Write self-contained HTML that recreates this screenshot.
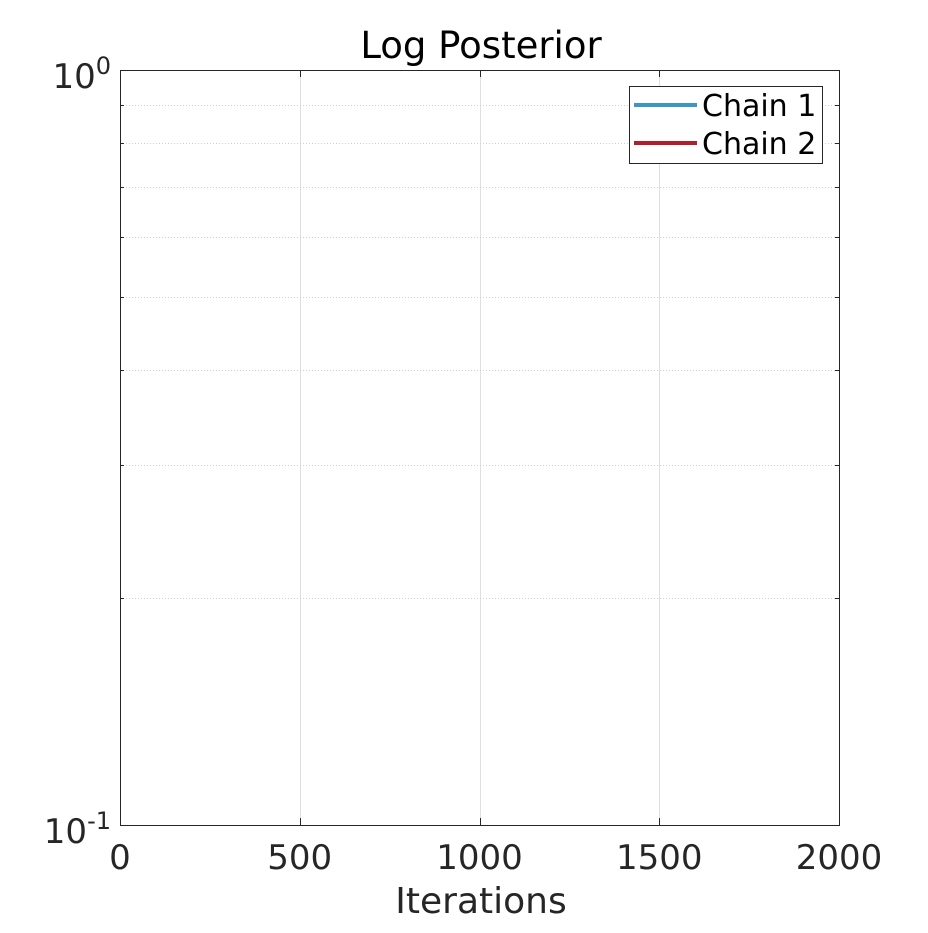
<!DOCTYPE html>
<html><head><meta charset="utf-8"><style>
html,body{margin:0;padding:0;background:#fff;}
svg text{font-family:"DejaVu Sans","Liberation Sans",sans-serif;}
</style></head><body>
<svg id="chart" width="928" height="928" viewBox="0 0 928 928" xmlns="http://www.w3.org/2000/svg">
<rect x="0" y="0" width="928" height="928" fill="#fff"/>
<defs><clipPath id="plotclip"><rect x="120" y="70" width="719" height="755"/></clipPath></defs>
<rect x="120" y="70" width="719" height="755" fill="#fff"/>
<g id="grid"></g>
<g id="series" clip-path="url(#plotclip)"></g>
<rect x="120.5" y="70.5" width="719" height="755" fill="none" stroke="#262626" stroke-width="1"/>
<g id="ticks"></g>
<text x="481" y="58" font-size="37" text-anchor="middle" fill="#000">Log Posterior</text>
<text x="481" y="913" font-size="36" text-anchor="middle" fill="#262626">Iterations</text>
<g>
<rect x="629.5" y="86.5" width="193" height="77" fill="#fff" stroke="#262626" stroke-width="1"/>
<g>
<line x1="634" y1="105" x2="697" y2="105" stroke="#3C97C7" stroke-width="4"/>
<text x="702" y="116" font-size="30" fill="#000">Chain 1</text></g>
<g>
<line x1="634" y1="143" x2="697" y2="143" stroke="#B01F2E" stroke-width="4"/>
<text x="702" y="154" font-size="30" fill="#000">Chain 2</text></g>
</g>
</svg>
<script>
const xTicks = [0, 500, 1000, 1500, 2000];
const yMajor = [0.1, 1];
const yMinor = [0.2, 0.3, 0.4, 0.5, 0.6, 0.7, 0.8, 0.9];
const chain1Iter = [];
const chain1Values = [];
const chain2Iter = [];
const chain2Values = [];

const X0=120,X1=839,Y0=825,Y1=70;
const xMin=0,xMax=2000,yMinLog=-1,yMaxLog=0;
function xs(v){return X0+(v-xMin)/(xMax-xMin)*(X1-X0);}
function ys(v){return Y0-(Math.log10(v)-yMinLog)/(yMaxLog-yMinLog)*(Y0-Y1);}
const NS="http://www.w3.org/2000/svg";
function mk(tag,attrs,parent){const e=document.createElementNS(NS,tag);for(const k in attrs)e.setAttribute(k,attrs[k]);parent.appendChild(e);return e;}
const grid=document.getElementById('grid'),ticks=document.getElementById('ticks'),series=document.getElementById('series');

xTicks.forEach(t=>{
  const x=Math.round(xs(t))+0.5;
  if(t!==xMin&&t!==xMax){
    const g=mk('line',{x1:x,x2:x,y1:Y1,y2:Y0,stroke:'#dfdfdf','stroke-width':1},grid);
    
    
  }
  const tk=mk('line',{x1:x,x2:x,y1:Y0,y2:Y0-7,stroke:'#262626','stroke-width':1},ticks);
  
  
  const tk2=mk('line',{x1:x,x2:x,y1:Y1,y2:Y1+7,stroke:'#262626','stroke-width':1},ticks);
  
  
  const lb=mk('text',{x:xs(t),y:869,'font-size':34,'text-anchor':'middle',fill:'#262626'},ticks);
  lb.textContent=t;
  
  
});
yMinor.forEach(v=>{
  const y=Math.round(ys(v))+0.5;
  const g=mk('line',{x1:X0,x2:X1,y1:y,y2:y,stroke:'#cfcfcf','stroke-width':1,'stroke-dasharray':'1,2'},grid);
  
  
  const a=mk('line',{x1:X0,x2:X0+4,y1:y,y2:y,stroke:'#262626','stroke-width':1},ticks);
  
  
  const b=mk('line',{x1:X1-4,x2:X1,y1:y,y2:y,stroke:'#262626','stroke-width':1},ticks);
  
  
});
yMajor.forEach(v=>{
  const y=ys(v);
  const e=Math.round(Math.log10(v));
  const lb=mk('text',{x:111,y:y+18,'font-size':34,'text-anchor':'end',fill:'#262626'},ticks);
  
  
  const t1=mk('tspan',{},lb);t1.textContent='10';
  const t2=mk('tspan',{dy:-14,'font-size':24},lb);t2.textContent=String(e);
});
function drawLine(iter,vals,color,name){
  if(!iter.length)return;
  const pts=iter.map((it,i)=>xs(it)+','+ys(vals[i])).join(' ');
  const p=mk('polyline',{points:pts,fill:'none',stroke:color,'stroke-width':1.5},series);
  
  
}
drawLine(chain1Iter,chain1Values,'#3C97C7','chain-1-line');
drawLine(chain2Iter,chain2Values,'#B01F2E','chain-2-line');
</script>
</body></html>
